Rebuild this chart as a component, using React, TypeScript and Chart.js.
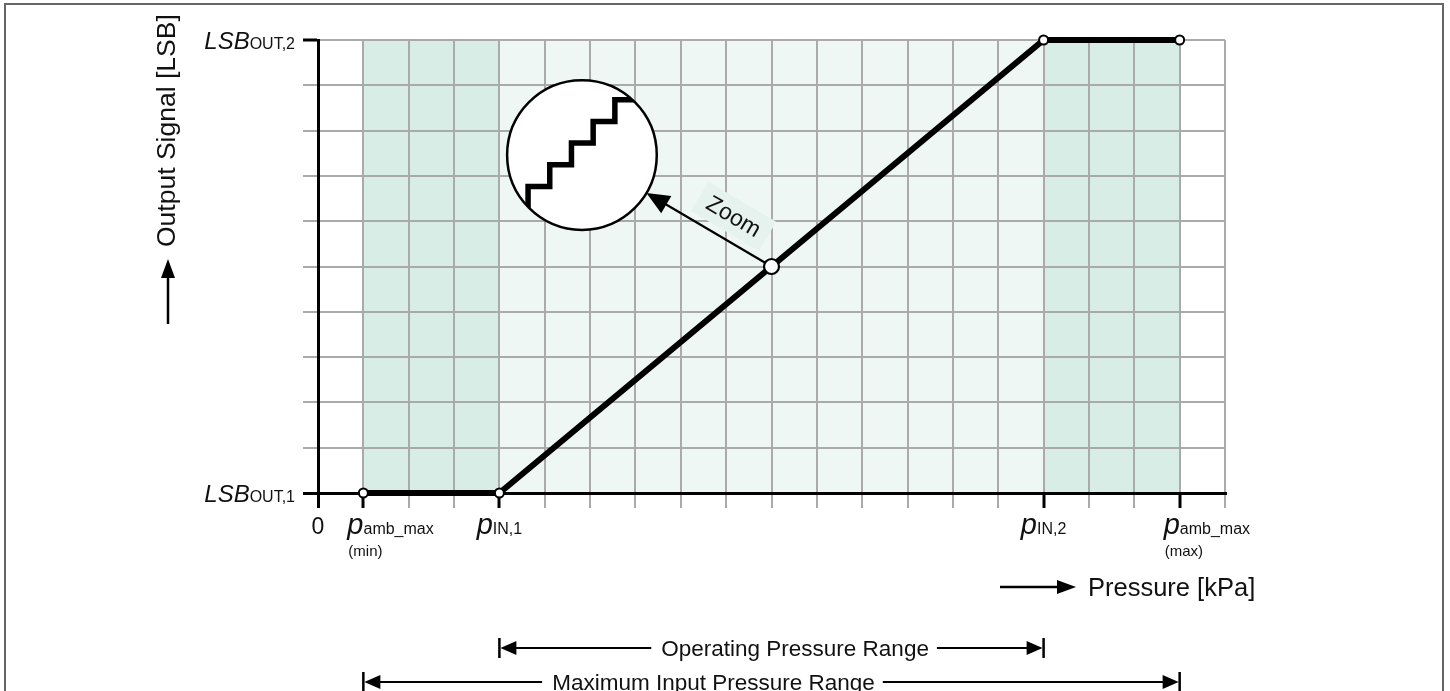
import React, { useEffect, useRef } from 'react';
import { Chart, registerables } from 'chart.js';

Chart.register(...registerables);

const FONT = '"Liberation Sans", Arial, Helvetica, sans-serif';
const W = 1450;
const H = 691;

// transfer curve (x in grid units of pressure, y in grid units of output)
const pressureX = [1, 4, 16, 19];
const outputY = [0, 0, 10, 10];
const zoomPointX = [10];
const zoomPointY = [5];

// axis extents
const xRange = [0, 20];
const yRange = [0, 10];
const xBlackTicks = [0, 1, 4, 16, 19];
const yBlackTicks = [0, 10];

// shaded bands
const darkBandFrom = [1, 16];
const darkBandTo = [4, 19];
const lightBandFrom = [4];
const lightBandTo = [16];

// tick labels
const yLabelValues = [0, 10];
const yLabelMain = ['LSB', 'LSB'];
const yLabelSub = ['OUT,1', 'OUT,2'];
const xLabelValues = [0, 1, 4, 16, 19];
const xLabelMain = ['0', 'p', 'p', 'p', 'p'];
const xLabelSub = ['', 'amb_max', 'IN,1', 'IN,2', 'amb_max'];
const xLabelNote = ['', '(min)', '', '', '(max)'];
const xLabelAlign = ['center', 'left', 'center', 'center', 'left'];

// range annotations
const rangeNames = ['Operating Pressure Range', 'Maximum Input Pressure Range'];
const rangeFrom = [4, 1];
const rangeTo = [16, 19];
const rangeTextAt = [10.52, 8.72];

// zoom inset
const insetCenter = [5.82, 7.46];
const insetRadius = [1.65];
const insetStepCount = [5];

const GRID = '#aaaaaa';

function drawParts(ctx: CanvasRenderingContext2D, parts: { t: string; f: string }[], x: number, base: number, align: string) {
  let total = 0;
  const ws = parts.map((p) => {
    ctx.font = p.f;
    const w = ctx.measureText(p.t).width;
    total += w;
    return w;
  });
  let cx = align === 'left' ? x : align === 'right' ? x - total : x - total / 2;
  const start = cx;
  ctx.textAlign = 'left';
  ctx.textBaseline = 'alphabetic';
  parts.forEach((p, i) => {
    ctx.font = p.f;
    ctx.fillText(p.t, cx, base);
    cx += ws[i];
  });
  return start;
}

function arrowHead(ctx: CanvasRenderingContext2D, tx: number, ty: number, dx: number, dy: number, len: number, half: number) {
  const bx = tx - dx * len;
  const by = ty - dy * len;
  ctx.beginPath();
  ctx.moveTo(tx, ty);
  ctx.lineTo(bx - dy * half, by + dx * half);
  ctx.lineTo(bx + dy * half, by - dx * half);
  ctx.closePath();
  ctx.fill();
}

const decor = {
  id: 'decor',
  beforeDraw(chart: any) {
    const { ctx, scales } = chart;
    const x = scales.x;
    const y = scales.y;
    ctx.save();
    ctx.fillStyle = '#ffffff';
    ctx.fillRect(0, 0, chart.width, chart.height);
    const top = y.getPixelForValue(yRange[1]);
    const bot = y.getPixelForValue(yRange[0]);
    ctx.fillStyle = '#d8ede5';
    darkBandFrom.forEach((a, i) => {
      const x1 = x.getPixelForValue(a);
      const x2 = x.getPixelForValue(darkBandTo[i]);
      ctx.fillRect(x1, top, x2 - x1, bot - top);
    });
    ctx.fillStyle = '#eef7f3';
    lightBandFrom.forEach((a, i) => {
      const x1 = x.getPixelForValue(a);
      const x2 = x.getPixelForValue(lightBandTo[i]);
      ctx.fillRect(x1, top, x2 - x1, bot - top);
    });
    ctx.restore();
  },
  beforeDatasetsDraw(chart: any) {
    const { ctx, scales } = chart;
    const x = scales.x;
    const y = scales.y;
    ctx.save();
    // inset circle
    const cx = x.getPixelForValue(insetCenter[0]);
    const cy = y.getPixelForValue(insetCenter[1]);
    const r = x.getPixelForValue(insetCenter[0] + insetRadius[0]) - cx;
    ctx.beginPath();
    ctx.arc(cx, cy, r, 0, Math.PI * 2);
    ctx.fillStyle = '#ffffff';
    ctx.fill();
    ctx.save();
    ctx.clip();
    const s = r * 0.29;
    let px = cx - 0.72 * r;
    let py = cy + 0.9 * r;
    ctx.beginPath();
    ctx.moveTo(px, py);
    py = cy + 0.42 * r;
    ctx.lineTo(px, py);
    for (let i = 0; i < insetStepCount[0]; i++) {
      px += s;
      ctx.lineTo(px, py);
      if (i < insetStepCount[0] - 1) {
        py -= s;
        ctx.lineTo(px, py);
      }
    }
    py -= s;
    ctx.lineTo(px, py);
    px += s * 1.5;
    ctx.lineTo(px, py);
    ctx.strokeStyle = '#000';
    ctx.lineWidth = 5.5;
    ctx.lineJoin = 'miter';
    ctx.stroke();
    ctx.restore();
    ctx.beginPath();
    ctx.arc(cx, cy, r, 0, Math.PI * 2);
    ctx.strokeStyle = '#000';
    ctx.lineWidth = 2.5;
    ctx.stroke();

    // arrow from zoom point to inset
    const mx = x.getPixelForValue(zoomPointX[0]);
    const my = y.getPixelForValue(zoomPointY[0]);
    const vx = cx - mx;
    const vy = cy - my;
    const L = Math.hypot(vx, vy);
    const ux = vx / L;
    const uy = vy / L;
    const tipX = mx + ux * (L - r);
    const tipY = my + uy * (L - r);
    ctx.fillStyle = '#000';
    ctx.beginPath();
    ctx.moveTo(mx, my);
    ctx.lineTo(tipX - ux * 12, tipY - uy * 12);
    ctx.lineWidth = 2.2;
    ctx.stroke();
    arrowHead(ctx, tipX, tipY, ux, uy, 23, 10);

    // "Zoom" label, rotated along arrow
    const along = 58;
    const nx = -uy;
    const ny = ux;
    let lx = mx + ux * along;
    let ly = my + uy * along;
    const side = ny < 0 ? 1 : -1;
    lx += nx * 24 * side;
    ly += ny * 24 * side;
    ctx.save();
    ctx.translate(lx, ly);
    ctx.rotate(Math.atan2(-uy, -ux));
    ctx.font = `23px ${FONT}`;
    const tw = ctx.measureText('Zoom').width;
    ctx.fillStyle = '#e5f2ed';
    ctx.fillRect(-tw / 2 - 10, -17, tw + 20, 34);
    ctx.fillStyle = '#111';
    ctx.textAlign = 'center';
    ctx.textBaseline = 'middle';
    ctx.fillText('Zoom', 0, 1);
    ctx.restore();
    ctx.restore();
  },
  afterDraw(chart: any) {
    const { ctx, scales, chartArea } = chart;
    const x = scales.x;
    const y = scales.y;
    ctx.save();
    ctx.fillStyle = '#111';
    // y tick labels
    yLabelValues.forEach((v, i) => {
      const py = y.getPixelForValue(v);
      drawParts(
        ctx,
        [
          { t: yLabelMain[i], f: `italic 24px ${FONT}` },
          { t: yLabelSub[i], f: `16px ${FONT}` },
        ],
        chartArea.left - 23,
        py + 8.5,
        'right'
      );
    });
    // x tick labels
    xLabelValues.forEach((v, i) => {
      const px = x.getPixelForValue(v);
      const isP = xLabelMain[i] === 'p';
      const parts = isP
        ? [
            { t: xLabelMain[i], f: `italic 29px ${FONT}` },
            { t: xLabelSub[i], f: `16px ${FONT}` },
          ]
        : [{ t: xLabelMain[i], f: `23px ${FONT}` }];
      const ax = xLabelAlign[i] === 'left' ? px - 16 : px;
      const start = drawParts(ctx, parts, ax, chartArea.bottom + 41, xLabelAlign[i]);
      if (xLabelNote[i]) {
        ctx.font = `15px ${FONT}`;
        ctx.textAlign = 'left';
        ctx.fillText(xLabelNote[i], start + 1, chartArea.bottom + 63);
      }
    });

    // y axis title with arrow
    const yt = 'Output Signal [LSB]';
    ctx.save();
    ctx.translate(175, 247);
    ctx.rotate(-Math.PI / 2);
    ctx.font = `26.5px ${FONT}`;
    ctx.textAlign = 'left';
    ctx.textBaseline = 'alphabetic';
    ctx.fillText(yt, 0, 0);
    ctx.restore();
    ctx.strokeStyle = '#000';
    ctx.fillStyle = '#000';
    ctx.lineWidth = 2.5;
    ctx.beginPath();
    ctx.moveTo(168, 324);
    ctx.lineTo(168, 272);
    ctx.stroke();
    arrowHead(ctx, 168, 259, 0, -1, 19, 7);

    // x axis title with arrow
    const ay = chartArea.bottom + 94;
    ctx.beginPath();
    ctx.moveTo(1000, ay);
    ctx.lineTo(1062, ay);
    ctx.stroke();
    arrowHead(ctx, 1076, ay, 1, 0, 19, 7);
    ctx.fillStyle = '#111';
    ctx.font = `25.5px ${FONT}`;
    ctx.textAlign = 'left';
    ctx.fillText('Pressure [kPa]', 1088, ay + 9);

    // range annotations
    const rowsY = [chartArea.bottom + 155, chartArea.bottom + 189];
    rangeNames.forEach((name, i) => {
      const ry = rowsY[i];
      const x1 = x.getPixelForValue(rangeFrom[i]);
      const x2 = x.getPixelForValue(rangeTo[i]);
      const tc = x.getPixelForValue(rangeTextAt[i]);
      ctx.font = `22.5px ${FONT}`;
      const tw = ctx.measureText(name).width;
      ctx.fillStyle = '#111';
      ctx.textAlign = 'center';
      ctx.fillText(name, tc, ry + 8);
      ctx.strokeStyle = '#000';
      ctx.fillStyle = '#000';
      ctx.lineWidth = 2.5;
      ctx.beginPath();
      ctx.moveTo(x1, ry - 10);
      ctx.lineTo(x1, ry + 10);
      ctx.moveTo(x2, ry - 10);
      ctx.lineTo(x2, ry + 10);
      ctx.stroke();
      ctx.lineWidth = 2;
      ctx.beginPath();
      ctx.moveTo(x1 + 10, ry);
      ctx.lineTo(tc - tw / 2 - 10, ry);
      ctx.moveTo(tc + tw / 2 + 8, ry);
      ctx.lineTo(x2 - 10, ry);
      ctx.stroke();
      arrowHead(ctx, x1 + 1, ry, -1, 0, 16, 7);
      arrowHead(ctx, x2 - 1, ry, 1, 0, 16, 7);
    });

    // frame
    ctx.strokeStyle = '#666';
    ctx.lineWidth = 2;
    ctx.strokeRect(5, 4, 1438, 720);
    ctx.restore();
  },
};

export default function App() {
  const ref = useRef<HTMLCanvasElement>(null);
  useEffect(() => {
    const canvas = ref.current;
    if (!canvas) return;
    const tickVal = (c: any) => (c && c.tick ? c.tick.value : NaN);
    const chart = new Chart(canvas, {
      type: 'line',
      data: {
        datasets: [
          {
            label: 'Transfer',
            data: pressureX.map((v, i) => ({ x: v, y: outputY[i] })),
            borderColor: '#000',
            borderWidth: 6,
            pointRadius: 4.5,
            pointBackgroundColor: '#fff',
            pointBorderColor: '#000',
            pointBorderWidth: 2,
            tension: 0,
            order: 2,
            clip: false as any,
          },
          {
            label: 'Zoom point',
            data: zoomPointX.map((v, i) => ({ x: v, y: zoomPointY[i] })),
            showLine: false,
            pointRadius: 7.5,
            pointBackgroundColor: '#fff',
            pointBorderColor: '#000',
            pointBorderWidth: 2.2,
            order: 1,
            clip: false as any,
          },
        ],
      },
      options: {
        responsive: false,
        animation: false,
        devicePixelRatio: 1,
        events: [],
        layout: { padding: { left: 303, right: 225, top: 40, bottom: 183 } },
        plugins: { legend: { display: false }, tooltip: { enabled: false } },
        scales: {
          x: {
            type: 'linear',
            min: xRange[0],
            max: xRange[1],
            ticks: { stepSize: 1, display: false },
            grid: {
              color: (c: any) => (tickVal(c) === 0 ? '#000' : GRID),
              lineWidth: (c: any) => (tickVal(c) === 0 ? 3 : 2),
              tickLength: 15,
              tickColor: (c: any) => (xBlackTicks.includes(tickVal(c)) ? '#000' : GRID),
              tickWidth: (c: any) => (xBlackTicks.includes(tickVal(c)) ? 3 : 2),
            },
            border: { color: '#000', width: 3 },
          },
          y: {
            type: 'linear',
            min: yRange[0],
            max: yRange[1],
            ticks: { stepSize: 1, display: false },
            grid: {
              color: (c: any) => (tickVal(c) === 0 ? '#000' : GRID),
              lineWidth: (c: any) => (tickVal(c) === 0 ? 3 : 2),
              tickLength: 15,
              tickColor: (c: any) => (yBlackTicks.includes(tickVal(c)) ? '#000' : GRID),
              tickWidth: (c: any) => (yBlackTicks.includes(tickVal(c)) ? 3 : 2),
            },
            border: { color: '#000', width: 3 },
          },
        },
      } as any,
      plugins: [decor as any],
    });
    return () => chart.destroy();
  }, []);
  return (
    <div style={{ position: 'absolute', left: 0, top: 0, width: W, height: H, background: '#fff', overflow: 'hidden' }}>
      <canvas ref={ref} width={W} height={H} style={{ display: 'block', width: W, height: H }} />
    </div>
  );
}
